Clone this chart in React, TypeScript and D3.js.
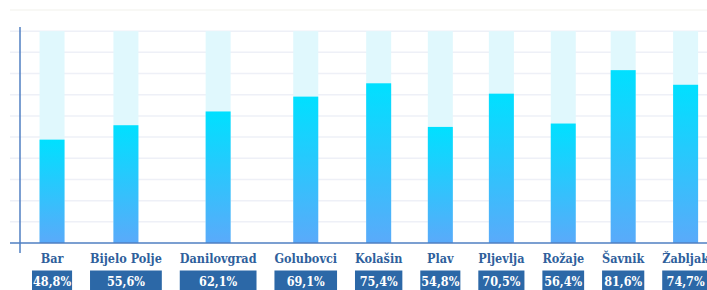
import React, { useLayoutEffect, useRef, useState } from "react";
import * as d3 from "d3";

const categories = ["Bar", "Bijelo Polje", "Danilovgrad", "Golubovci", "Kolašin", "Plav", "Pljevlja", "Rožaje", "Šavnik", "Žabljak"];
const values = [48.8, 55.6, 62.1, 69.1, 75.4, 54.8, 70.5, 56.4, 81.6, 74.7];
const valueLabels = ["48,8%", "55,6%", "62,1%", "69,1%", "75,4%", "54,8%", "70,5%", "56,4%", "81,6%", "74,7%"];
const gridTicks = [10, 20, 30, 40, 50, 60, 70, 80, 90, 100, 110];

const W = 707;
const H = 290;
const FONT = '"DejaVu Serif Condensed", "DejaVu Serif", serif';
const LABEL_SIZE = 12.5;
const VALUE_SIZE = 12.5;

export default function App() {
  const y = d3.scaleLinear().domain([0, 110]).range([243, 10]);
  const measureRef = useRef<SVGGElement>(null);
  const [widths, setWidths] = useState<number[]>(categories.map(() => 50));

  useLayoutEffect(() => {
    const g = measureRef.current;
    if (!g) return;
    const texts = Array.from(g.querySelectorAll("text")) as SVGTextElement[];
    const lw = texts.filter((t) => t.dataset.kind === "l").map((t) => t.getComputedTextLength());
    const vw = texts.filter((t) => t.dataset.kind === "v").map((t) => t.getComputedTextLength());
    setWidths(categories.map((_, i) => Math.max(lw[i], vw[i] + 2)));
  }, []);

  const x0 = 32;
  const x1 = 709;
  const total = d3.sum(widths);
  const gap = (x1 - x0 - total) / (categories.length - 1);
  const centers: number[] = [];
  let acc = x0;
  widths.forEach((w) => {
    centers.push(acc + w / 2);
    acc += w + gap;
  });

  const xPos = d3.scaleOrdinal<string, number>().domain(categories).range(centers);
  const barW = 25;

  return (
    <svg width={W} height={H} style={{ position: "absolute", left: 0, top: 0, background: "#fff" }}>
      <defs>
        <linearGradient id="barGrad" x1="0" y1="0" x2="0" y2="1">
          <stop offset="0%" stopColor="#00e0ff" />
          <stop offset="100%" stopColor="#5aaafa" />
        </linearGradient>
      </defs>
      <g ref={measureRef} visibility="hidden">
        {categories.map((c, i) => (
          <g key={"m" + c}>
            <text data-kind="l" fontFamily={FONT} fontWeight="bold" fontSize={LABEL_SIZE}>{c}</text>
            <text data-kind="v" fontFamily={FONT} fontWeight="bold" fontSize={VALUE_SIZE}>{valueLabels[i]}</text>
          </g>
        ))}
      </g>
      {gridTicks.map((t) => (
        <line key={t} x1={10} x2={W} y1={y(t)} y2={y(t)} stroke={t === 110 ? "#f6f6f2" : "#eef0f7"} strokeWidth={1.5} />
      ))}
      {categories.map((c) => (
        <rect key={"bg" + c} x={xPos(c) - barW / 2} y={y(100)} width={barW} height={y(0) - y(100)} fill="#e0f8fd" />
      ))}
      {categories.map((c, i) => (
        <rect key={"b" + c} x={xPos(c) - barW / 2} y={y(values[i])} width={barW} height={y(0) - y(values[i])} fill="url(#barGrad)" />
      ))}
      <line x1={20} x2={20} y1={27} y2={253} stroke="#4f7fc2" strokeWidth={1.5} />
      <line x1={10} x2={W} y1={y(0)} y2={y(0)} stroke="#4f7fc2" strokeWidth={1.5} />
      {categories.map((c, i) => (
        <g key={"l" + c}>
          <text x={xPos(c)} y={263} textAnchor="middle" fontFamily={FONT} fontWeight="bold" fontSize={LABEL_SIZE} fill="#2f5f9c">
            {c}
          </text>
          <rect x={xPos(c) - widths[i] / 2} y={270.5} width={widths[i]} height={22} fill="#2c68a7" />
          <text x={xPos(c)} y={286} textAnchor="middle" fontFamily={FONT} fontWeight="bold" fontSize={VALUE_SIZE} fill="#ffffff">
            {valueLabels[i]}
          </text>
        </g>
      ))}
    </svg>
  );
}
